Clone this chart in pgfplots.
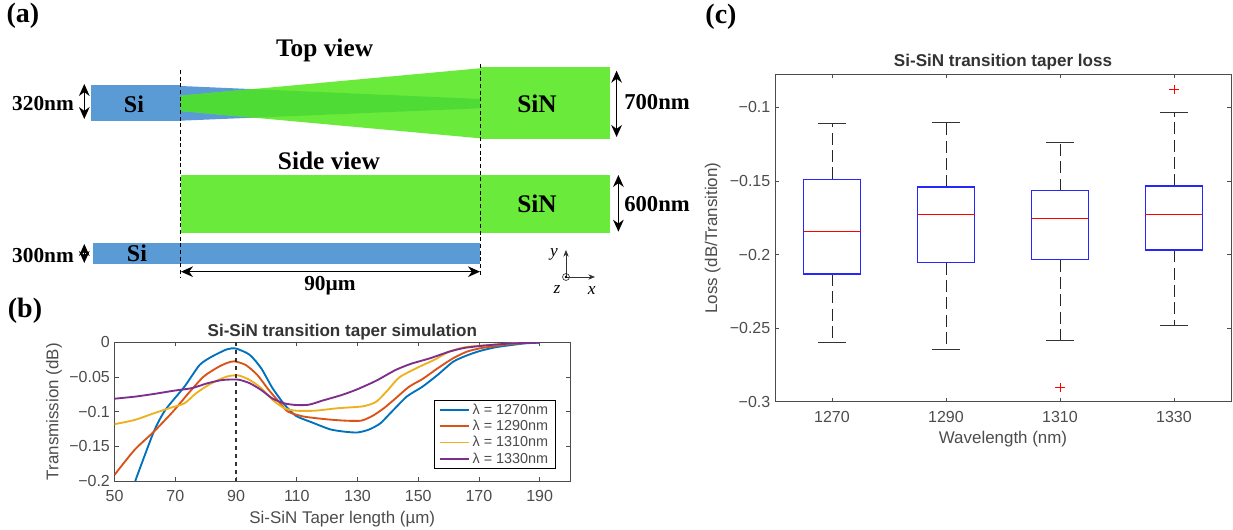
\documentclass[border=0pt]{standalone}
\usepackage{fontspec}
\setmainfont{Liberation Sans}
\newfontfamily\tms{Liberation Serif}
\usepackage{pgfplots}
\pgfplotsset{compat=1.18}
\usetikzlibrary{arrows.meta}
\definecolor{mblue}{HTML}{0072BD}
\definecolor{morange}{HTML}{D95319}
\definecolor{myellow}{HTML}{EDB120}
\definecolor{mpurple}{HTML}{7E2F8E}
\definecolor{siblue}{HTML}{5B9BD5}
\definecolor{singreen}{HTML}{6AEA3A}
\definecolor{overlap}{HTML}{4FDB36}
\definecolor{axgray}{gray}{0.3}
\tikzset{blab/.style={font=\tms\bfseries\fontsize{#1}{#1}\selectfont,text=black},
  dbl/.style={black,line width=1pt,{Stealth[length=9pt,width=8pt]}-{Stealth[length=9pt,width=8pt]}}}
\pgfplotsset{
  matlab/.style={
    scale only axis, axis line style={axgray,line width=0.7pt},
    tick style={axgray,line width=0.6pt}, tick align=inside, major tick length=3pt,
    tick pos=both, minor tick num=0,
    ticklabel style={text=axgray},
    label style={text=axgray},
    /pgf/number format/assume math mode=true,
    /pgf/number format/1000 sep={},
    title style={font=\bfseries\fontsize{12.8}{14}\selectfont,text=black!80},
    tick label style={font=\fontsize{12}{14}\selectfont},
    label style={font=\fontsize{12.7}{14}\selectfont},
    xticklabel style={yshift=-3.5pt},
  },
  boxs/.style={draw=blue!85!white,line width=1.2pt},
  meds/.style={draw=red,line width=0.8pt},
  whis/.style={draw=black!85,line width=0.7pt,dash pattern=on 9pt off 4pt},
  caps/.style={draw=black!80,line width=0.8pt},
  outs/.style={only marks,mark=+,mark size=3.5pt,mark options={draw=red,solid,line width=0.6pt}},
  crv/.style={#1,line width=1.4pt,smooth,tension=0.4},
}
\begin{document}
\begin{tikzpicture}
\path[use as bounding box] (0,0) rectangle (924.75pt,397.5pt);
% ---- schematic (a), in picture pixels
\begin{axis}[at={(0pt,0pt)},anchor=south west,scale only axis,width=924.75pt,height=397.5pt,hide axis,
  xmin=0,xmax=1233,ymin=0,ymax=530,y dir=reverse,clip=false]
\addplot[fill=siblue,draw=none] coordinates {(91.4,85) (180.6,85) (180.6,121.3) (91.4,121.3)} -- cycle;
\addplot[fill=siblue,draw=none] coordinates {(180.6,86) (480,99) (480,108.3) (180.6,120.7)} -- cycle;
\addplot[fill=singreen,draw=none] coordinates {(180.6,95.7) (480,68.3) (480,138.3) (180.6,111)} -- cycle;
\addplot[fill=overlap,draw=none] coordinates {(180.6,95.7) (252.5,89.1) (480,99) (480,108.3) (253.5,117.7) (180.6,111)} -- cycle;
\addplot[fill=singreen,draw=none] coordinates {(480,66.7) (610,66.7) (610,139) (480,139)} -- cycle;
\addplot[fill=singreen,draw=none] coordinates {(180.6,175) (610,175) (610,232.7) (180.6,232.7)} -- cycle;
\addplot[fill=siblue,draw=none] coordinates {(92.7,243.3) (480,243.3) (480,264) (92.7,264)} -- cycle;
\addplot[black,densely dashed,line width=0.6pt] coordinates {(180.6,70) (180.6,276.7)};
\addplot[black,densely dashed,line width=0.6pt] coordinates {(480,64) (480,276.7)};
\addplot[dbl] coordinates {(181,271.7) (480,271.7)};
\addplot[dbl] coordinates {(84.3,84) (84.3,119)};
\addplot[dbl] coordinates {(84.3,244) (84.3,263)};
\addplot[dbl] coordinates {(616.6,70.7) (616.6,137)};
\addplot[dbl] coordinates {(618.4,175) (618.4,231.7)};
\addplot[black!80,line width=0.5pt,-{Stealth[length=5pt,width=4pt]}] coordinates {(566,277) (566,250)};
\addplot[black!80,line width=0.5pt,-{Stealth[length=5pt,width=4pt]}] coordinates {(566,277) (595,277)};
\addplot[black!80,line width=0.5pt,only marks,mark=o,mark size=2.6pt,mark options={fill=white}] coordinates {(566,277)};
\addplot[black,only marks,mark=*,mark size=0.7pt] coordinates {(566,277)};
\node[blab=21] at (axis cs:23,16) {(a)};
\node[blab=21] at (axis cs:25,311) {(b)};
\node[blab=21] at (axis cs:721,17) {(c)};
\node[blab=19] at (axis cs:324.6,50) {Top view};
\node[blab=19] at (axis cs:329,161) {Side view};
\node[blab=18] at (axis cs:134,104) {Si};
\node[blab=18] at (axis cs:137,253) {Si};
\node[blab=19] at (axis cs:537,104) {SiN};
\node[blab=19] at (axis cs:537,204) {SiN};
\node[blab=16] at (axis cs:43,104) {320nm};
\node[blab=16] at (axis cs:43,256) {300nm};
\node[blab=17] at (axis cs:657,102) {700nm};
\node[blab=17] at (axis cs:657,204) {600nm};
\node[blab=16] at (axis cs:330,286) {90µm};
\node[font=\tms\itshape\fontsize{13}{13}\selectfont] at (axis cs:554,254) {y};
\node[font=\tms\itshape\fontsize{13}{13}\selectfont] at (axis cs:557,290) {z};
\node[font=\tms\itshape\fontsize{13}{13}\selectfont] at (axis cs:591.6,291) {x};
\end{axis}
% ---- (b)
\begin{axis}[matlab,at={(85.95pt,36.75pt)},anchor=south west,width=341.55pt,height=104pt,
  xmin=50,xmax=200,ymin=-0.2,ymax=0,
  xtick={50,70,90,110,130,150,170,190},
  ytick={-0.2,-0.15,-0.1,-0.05,0},
  yticklabels={−0.2,−0.15,−0.1,−0.05,0},
  xlabel={Si-SiN Taper length (µm)},ylabel={Transmission (dB)},
  xlabel style={yshift=0pt},ylabel style={yshift=-1.2pt},
  title={Si-SiN transition taper simulation},title style={yshift=-7.5pt},
  legend style={at={(0.969,0.584)},anchor=north east,font=\fontsize{10.8}{12}\selectfont,draw=black,line width=0.5pt,
    inner xsep=3.5pt,inner ysep=0.5pt,row sep=-1.1pt,nodes={text=axgray}},
  legend cell align=left,
  legend image code/.code={\draw[#1] (0pt,0pt) -- (22pt,0pt);},
]
\addplot[crv=mblue] coordinates {(56.8,-0.2)(62.9,-0.129)(66.7,-0.0976)(73,-0.064)(78,-0.0327)(82,-0.0207)(87,-0.0101)(90,-0.009)(94.5,-0.018)(98.3,-0.0375)(102,-0.066)(106,-0.09)(109.7,-0.106)(114.7,-0.115)(121,-0.1255)(126,-0.129)(130,-0.13)(133.7,-0.126)(137.5,-0.117)(141.3,-0.1)(146.3,-0.078)(151.4,-0.064)(156.4,-0.047)(161.5,-0.028)(166,-0.019)(170.3,-0.0125)(175.4,-0.0072)(180.5,-0.004)(185.5,-0.0014)(190,-0.0005)};
\addlegendentry{λ = 1270nm}
\addplot[crv=morange] coordinates {(50,-0.191)(56.6,-0.155)(62.9,-0.129)(69.2,-0.1)(74.3,-0.0736)(79.3,-0.0495)(83.8,-0.0365)(86.9,-0.03)(89.4,-0.0274)(93.2,-0.0327)(97,-0.047)(100.8,-0.0688)(104.6,-0.088)(107.1,-0.1)(112.2,-0.107)(119.8,-0.111)(126.1,-0.113)(131.2,-0.113)(135,-0.106)(138.7,-0.095)(142.5,-0.081)(147,-0.064)(151.4,-0.053)(156.4,-0.0375)(161.5,-0.023)(166,-0.0135)(170.3,-0.0087)(175.4,-0.0053)(180.5,-0.0024)(185,-0.001)};
\addlegendentry{λ = 1290nm}
\addplot[crv=myellow] coordinates {(50,-0.118)(56.6,-0.112)(62.9,-0.1024)(68,-0.095)(73,-0.088)(76.8,-0.0736)(81.9,-0.059)(86.9,-0.0495)(90.7,-0.0476)(94.5,-0.0543)(98.3,-0.066)(102,-0.083)(105.9,-0.095)(109.7,-0.0986)(116,-0.0986)(123.6,-0.095)(131.8,-0.0923)(136.2,-0.0856)(140,-0.0688)(143.8,-0.0505)(150,-0.036)(155.2,-0.0255)(160.2,-0.0135)(165.3,-0.0072)(170.3,-0.0048)(176.7,-0.0029)(181.7,-0.0014)(185.5,-0.001)};
\addlegendentry{λ = 1310nm}
\addplot[crv=mpurple] coordinates {(50,-0.0813)(56.6,-0.0784)(62.9,-0.0745)(69.2,-0.07)(75.5,-0.066)(80.6,-0.059)(85.6,-0.0543)(90.7,-0.0538)(94.5,-0.059)(98.3,-0.0688)(102,-0.081)(105.9,-0.088)(109.7,-0.0904)(114,-0.09)(118.5,-0.084)(124.8,-0.076)(129.9,-0.0678)(136.2,-0.0553)(142.5,-0.04)(147.6,-0.031)(153.9,-0.023)(160.2,-0.0135)(165.3,-0.008)(171.6,-0.0048)(178,-0.0024)(184.3,-0.001)(190,-0.0005)};
\addlegendentry{λ = 1330nm}
\addplot[black!80,dashed,line width=1.2pt,forget plot] coordinates {(90,0) (90,-0.2)};
\end{axis}
% ---- (c)
\begin{axis}[matlab,at={(581.25pt,96.2pt)},anchor=south west,width=342pt,height=245.55pt,
  xmin=1260,xmax=1340,ymin=-0.3,ymax=-0.0776,
  xtick={1270,1290,1310,1330},
  ytick={-0.3,-0.25,-0.2,-0.15,-0.1},
  yticklabels={−0.3,−0.25,−0.2,−0.15,−0.1},
  xlabel={Wavelength (nm)},ylabel={Loss (dB/Transition)},
  xlabel style={yshift=0pt},ylabel style={yshift=0pt},
  title={Si-SiN transition taper loss},title style={yshift=-6pt},
]
% 1270
\addplot[whis] coordinates {(1270,-0.149)(1270,-0.1113)};
\addplot[whis] coordinates {(1270,-0.2132)(1270,-0.2596)};
\addplot[caps] coordinates {(1267.6,-0.1113)(1272.4,-0.1113)};
\addplot[caps] coordinates {(1267.6,-0.2596)(1272.4,-0.2596)};
\addplot[boxs] coordinates {(1265,-0.2132)(1275,-0.2132)(1275,-0.149)(1265,-0.149)} -- cycle;
\addplot[meds] coordinates {(1265,-0.1844)(1275,-0.1844)};
% 1290
\addplot[whis] coordinates {(1290,-0.1543)(1290,-0.1106)};
\addplot[whis] coordinates {(1290,-0.2055)(1290,-0.2648)};
\addplot[caps] coordinates {(1287.6,-0.1106)(1292.4,-0.1106)};
\addplot[caps] coordinates {(1287.6,-0.2648)(1292.4,-0.2648)};
\addplot[boxs] coordinates {(1285,-0.2055)(1295,-0.2055)(1295,-0.1543)(1285,-0.1543)} -- cycle;
\addplot[meds] coordinates {(1285,-0.1726)(1295,-0.1726)};
% 1310
\addplot[whis] coordinates {(1310,-0.1566)(1310,-0.124)};
\addplot[whis] coordinates {(1310,-0.2034)(1310,-0.2585)};
\addplot[caps] coordinates {(1307.6,-0.124)(1312.4,-0.124)};
\addplot[caps] coordinates {(1307.6,-0.2585)(1312.4,-0.2585)};
\addplot[boxs] coordinates {(1305,-0.2034)(1315,-0.2034)(1315,-0.1566)(1305,-0.1566)} -- cycle;
\addplot[meds] coordinates {(1305,-0.1754)(1315,-0.1754)};
% 1330
\addplot[whis] coordinates {(1330,-0.1536)(1330,-0.1036)};
\addplot[whis] coordinates {(1330,-0.1971)(1330,-0.2485)};
\addplot[caps] coordinates {(1327.6,-0.1036)(1332.4,-0.1036)};
\addplot[caps] coordinates {(1327.6,-0.2485)(1332.4,-0.2485)};
\addplot[boxs] coordinates {(1325,-0.1971)(1335,-0.1971)(1335,-0.1536)(1325,-0.1536)} -- cycle;
\addplot[meds] coordinates {(1325,-0.1726)(1335,-0.1726)};
% outliers
\addplot[outs] coordinates {(1310,-0.2904)(1330,-0.0877)};
\end{axis}
\end{tikzpicture}
\end{document}
